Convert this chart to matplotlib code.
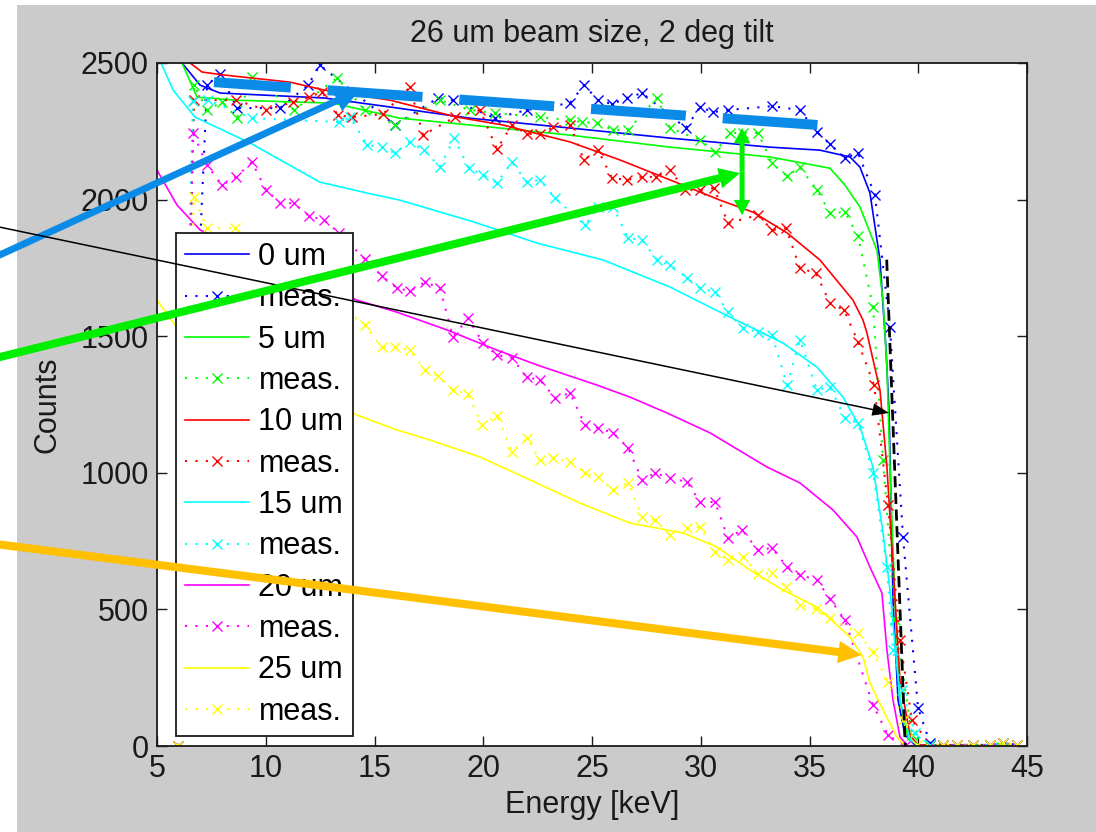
import numpy as np
import matplotlib.pyplot as plt
from matplotlib.patches import Rectangle

plt.rcParams['font.family'] = ['Liberation Sans', 'DejaVu Sans']

W, H = 1096, 832
FS = 22

# ---- simulated spectra (solid lines) ----
E_SIM_0 = [5.8, 6.15, 6.98, 7.9, 12.68, 15.71, 19.39, 23.99, 28.59, 33.18, 35.48, 36.86, 37.32,
           37.78, 38.24, 38.52, 38.66, 38.84, 39.07, 39.39, 39.85, 45.0]
C_SIM_0 = [2650, 2500, 2419, 2390, 2372, 2339, 2298, 2262, 2225, 2192, 2181, 2156, 2119,
           2024, 1779, 1449, 1219, 534, 168, 40, 4, 0]

E_SIM_5 = [5.8, 6.15, 6.84, 8.59, 13.09, 16.17, 19.39, 23.99, 28.59, 33.18, 35.94, 36.63, 37.32,
           38.1, 38.38, 38.56, 38.7, 38.93, 39.16, 39.53, 39.99, 45.0]
C_SIM_5 = [2650, 2500, 2375, 2364, 2353, 2298, 2273, 2236, 2192, 2156, 2115, 2053, 1973,
           1815, 1632, 1387, 1021, 534, 168, 29, 4, 0]

E_SIM_10 = [6.2, 6.52, 7.07, 8.08, 11.11, 12.68, 15.71, 18.79, 20.91, 23.99, 26.29, 28.59, 30.89,
            32.4, 33.97, 35.48, 37.0, 37.46, 37.64, 38.24, 38.56, 38.84, 39.16, 39.62, 39.99, 45.0]
C_SIM_10 = [2650, 2500, 2467, 2456, 2430, 2401, 2364, 2302, 2273, 2211, 2145, 2072, 1998,
            1954, 1878, 1779, 1632, 1559, 1512, 1303, 1021, 655, 242, 40, 4, 0]

E_SIM_15 = [5.0, 5.23, 5.74, 6.75, 9.28, 12.49, 14.66, 16.17, 19.57, 22.47, 25.51, 28.59, 31.34,
            33.78, 35.34, 36.54, 37.32, 37.92, 38.38, 38.7, 39.16, 39.62, 40.08, 45.0]
C_SIM_15 = [2560, 2492, 2401, 2302, 2207, 2064, 2024, 1998, 1918, 1841, 1779, 1680, 1570,
            1475, 1387, 1277, 1168, 1021, 780, 571, 168, 22, 0, 0]

E_SIM_20 = [5.0, 5.92, 6.98, 14.2, 16.03, 18.33, 20.63, 22.61, 25.23, 26.75, 28.45, 30.43, 33.05,
            34.56, 36.08, 37.18, 37.78, 38.33, 38.56, 38.84, 39.16, 39.53, 45.0]
C_SIM_20 = [2108, 1980, 1889, 1632, 1588, 1523, 1449, 1391, 1321, 1277, 1219, 1146, 1021,
            963, 864, 765, 655, 560, 351, 168, 33, 0, 0]

E_SIM_25 = [5.0, 5.83, 14.2, 16.03, 17.55, 19.85, 22.15, 24.45, 26.75, 29.18, 30.75, 32.26, 33.78,
            35.34, 36.86, 37.46, 37.78, 38.38, 39.02, 39.39, 45.0]
C_SIM_25 = [1632, 1541, 1211, 1157, 1120, 1058, 974, 889, 816, 780, 728, 644, 571,
            509, 399, 326, 231, 132, 33, 0, 0]

# ---- measured spectra (dotted + x) ----
E_TAIL = [41.14, 41.78, 42.52, 43.3, 43.9, 44.54]
C_TAIL = [4, 4, 4, 4, 11, 4]

E_MEAS_0 = [5.97, 7.3, 7.9, 8.68, 10.66, 11.94, 12.49, 15.94, 17.92, 18.61, 20.54, 22.01, 23.99,
            24.63, 25.28, 25.92, 26.61, 27.3, 29.32, 29.97, 30.56, 31.25, 33.28, 34.56, 35.34,
            35.94, 36.63, 37.23, 38.01, 38.7, 39.3, 39.99, 40.54]
C_MEAS_0 = [0, 2419, 2460, 2335, 2335, 2419, 2492, 2273, 2372, 2364, 2298, 2328, 2353,
            2419, 2364, 2350, 2372, 2390, 2262, 2339, 2320, 2328, 2342, 2328, 2247,
            2203, 2152, 2170, 2017, 1534, 765, 139, 11]

E_MEAS_5 = [5.97, 6.7, 7.3, 7.99, 8.68, 9.37, 11.3, 13.28, 14.56, 15.94, 18.01, 19.39, 20.54,
            22.61, 23.99, 24.54, 25.23, 25.97, 26.66, 27.99, 28.59, 29.97, 30.66, 31.34, 31.94,
            32.63, 33.28, 33.97, 34.56, 35.34, 35.94, 36.63, 37.23, 37.92, 38.38, 38.93, 39.71,
            40.54]
C_MEAS_5 = [0, 2419, 2328, 2357, 2298, 2449, 2328, 2445, 2328, 2273, 2364, 2328, 2317,
            2302, 2291, 2284, 2280, 2255, 2255, 2372, 2262, 2218, 2174, 2244, 2244,
            2244, 2134, 2086, 2119, 2035, 1951, 1954, 1867, 1607, 1047, 461, 40,
            4]

E_MEAS_10 = [5.97, 6.7, 8.63, 10.01, 11.25, 11.99, 12.59, 13.32, 13.97, 15.39, 16.63, 17.23, 18.7,
             19.85, 20.63, 21.32, 22.01, 22.61, 23.21, 23.99, 24.63, 25.28, 25.92, 26.61, 27.3,
             27.94, 28.59, 29.28, 29.97, 30.61, 31.25, 32.63, 33.28, 33.92, 34.56, 35.3, 35.94,
             36.59, 37.23, 37.97, 38.61, 39.16, 39.71, 40.54]
C_MEAS_10 = [0, 2364, 2364, 2328, 2357, 2375, 2394, 2309, 2302, 2313, 2412, 2236, 2302,
             2328, 2185, 2273, 2240, 2240, 2266, 2273, 2145, 2181, 2079, 2072, 2083,
             2083, 2108, 2035, 2035, 2042, 1914, 1943, 1889, 1896, 1749, 1731, 1621,
             1596, 1479, 1321, 882, 388, 95, 4]

E_MEAS_15 = [5.97, 6.65, 7.34, 9.37, 13.37, 13.87, 14.66, 15.34, 15.94, 16.63, 17.28, 18.01,
             18.66, 19.34, 19.99, 20.63, 21.32, 22.01, 22.61, 23.3, 24.68, 25.28, 25.97, 26.66,
             27.3, 27.99, 28.59, 29.37, 29.97, 30.66, 31.25, 31.94, 32.63, 33.28, 33.97, 34.56,
             35.34, 35.94, 36.63, 37.23, 37.92, 38.56, 38.84, 39.25, 39.85, 40.54]
C_MEAS_15 = [0, 2360, 2364, 2298, 2284, 2302, 2200, 2192, 2170, 2211, 2181, 2119,
             2225, 2115, 2090, 2061, 2137, 2064, 2072, 2006, 1907, 1973, 1973, 1859,
             1852, 1779, 1760, 1713, 1676, 1662, 1588, 1530, 1515, 1504, 1321, 1486,
             1303, 1314, 1200, 1182, 999, 655, 351, 205, 48, 4]

E_MEAS_20 = [5.97, 6.66, 7.3, 7.99, 8.63, 9.37, 10.01, 10.66, 11.3, 11.99, 12.68, 13.37, 14.56,
             15.34, 16.03, 16.63, 17.32, 18.01, 18.61, 19.3, 19.99, 20.63, 21.32, 22.01, 22.61,
             23.3, 23.99, 24.68, 25.28, 25.97, 26.66, 27.3, 27.9, 28.59, 29.37, 29.97, 30.66,
             31.25, 31.9, 32.63, 33.28, 33.97, 34.56, 35.34, 35.94, 36.63, 37.92, 38.61, 39.39]
C_MEAS_20 = [0, 2244, 2126, 2053, 2083, 2137, 2035, 1987, 1987, 1940, 1925, 1878, 1782,
             1720, 1676, 1665, 1698, 1676, 1497, 1566, 1475, 1431, 1420, 1350, 1340,
             1274, 1292, 1175, 1164, 1146, 1091, 974, 999, 981, 966, 893, 893,
             761, 791, 717, 725, 655, 626, 608, 538, 461, 150, 40, 0]

E_MEAS_25 = [5.97, 6.7, 7.3, 8.59, 14.56, 15.34, 15.94, 16.63, 17.32, 17.92, 18.61, 19.3, 19.94,
             20.63, 21.32, 22.01, 22.61, 23.21, 23.99, 24.68, 25.28, 25.97, 26.66, 27.3, 27.9,
             28.59, 29.37, 29.97, 30.66, 31.25, 31.94, 32.63, 33.28, 33.92, 34.56, 35.3, 35.94,
             37.23, 37.92, 38.61, 39.3, 39.94]
C_MEAS_25 = [0, 2009, 1896, 1896, 1541, 1460, 1460, 1449, 1376, 1354, 1303, 1288, 1175,
             1208, 1076, 1127, 1047, 1054, 1039, 999, 985, 937, 963, 838, 827,
             772, 798, 802, 710, 681, 692, 630, 633, 582, 516, 501, 468,
             414, 344, 234, 95, 4]

# ideal edge
E_EDGE = [38.55, 39.4]
C_EDGE = [1780, 0]

LABELS = ["0 um", "5 um", "10 um", "15 um", "20 um", "25 um"]
COLORS = ["#0000FF", "#00FF00", "#FF0000", "#00FFFF", "#FF00FF", "#FFFF00"]

ARROW_BLUE = "#0B8BE8"
ARROW_GREEN = "#00EE00"
ARROW_ORANGE = "#FFC000"
INK = "#1A1A1A"


def fig_frac(px, py):
    return px / W, 1 - py / H


fig = plt.figure(figsize=(W / 100, H / 100), dpi=100, facecolor="white")
fig.patches.append(Rectangle((17 / W, 0), 1 - 17 / W, 1 - 5 / H, transform=fig.transFigure,
                             facecolor="#CBCBCB", edgecolor="none", zorder=-5))

x0, y0 = fig_frac(157, 746)
x1, y1 = fig_frac(1027, 63)
ax = fig.add_axes([x0, y0, x1 - x0, y1 - y0])
ax.set_facecolor("white")

sims = [(E_SIM_0, C_SIM_0), (E_SIM_5, C_SIM_5), (E_SIM_10, C_SIM_10),
        (E_SIM_15, C_SIM_15), (E_SIM_20, C_SIM_20), (E_SIM_25, C_SIM_25)]
meas = [(E_MEAS_0, C_MEAS_0), (E_MEAS_5, C_MEAS_5), (E_MEAS_10, C_MEAS_10),
        (E_MEAS_15, C_MEAS_15), (E_MEAS_20, C_MEAS_20), (E_MEAS_25, C_MEAS_25)]

for lab, col, (es, cs), (em, cm) in zip(LABELS, COLORS, sims, meas):
    ax.plot(es, cs, color=col, lw=1.2, label=lab)
    em = np.concatenate([em, E_TAIL])
    cm = np.concatenate([cm, C_TAIL])
    ax.plot(em, cm, color=col, lw=1.5, ls=(0, (1, 4)), marker="x", ms=7, mew=1.0,
            label="meas.")

ax.plot(E_EDGE, C_EDGE, color="black", lw=2.0, ls=(0, (4, 2)), zorder=3)

ax.set_xlim(5, 45)
ax.set_ylim(0, 2500)
ax.set_xticks(np.arange(5, 46, 5))
ax.set_yticks(np.arange(0, 2501, 500))
ax.tick_params(direction="in", length=7, width=1, top=True, right=True,
               labelsize=FS, pad=6, colors=INK)
for s in ax.spines.values():
    s.set_linewidth(1.3)
    s.set_color(INK)

ax.set_xlabel("Energy [keV]", fontsize=FS, labelpad=4, color=INK)
ax.set_ylabel("Counts", fontsize=FS, labelpad=13, color=INK)
ax.set_title("26 um beam size, 2 deg tilt", fontsize=FS, pad=15, color=INK)

bx, by = (176 - 157) / 870, (746 - 233) / 683
leg = ax.legend(loc="upper left", bbox_to_anchor=(bx, by), borderaxespad=0, fontsize=FS,
                numpoints=1, handlelength=2.1, handletextpad=0.3, labelspacing=0.37,
                borderpad=0.3, fancybox=False, framealpha=1, edgecolor=INK)
leg.get_frame().set_linewidth(1.3)
leg.set_zorder(5)

# highlighted reference level
ax.plot([7.62, 35.39], [2430, 2273], color=ARROW_BLUE, lw=7.2, ls=(1.8, (9.5, 3.7)),
        dash_capstyle="butt", zorder=9)


def arrow(tip, tail_px, color, tail_w, head_w, head_l):
    ax.annotate("", xy=tip, xycoords="data", xytext=fig_frac(*tail_px),
                textcoords="figure fraction", annotation_clip=False, zorder=10,
                arrowprops=dict(arrowstyle=f"simple,head_length={head_l},head_width={head_w},"
                                           f"tail_width={tail_w}",
                                color=color, lw=0, shrinkA=0, shrinkB=0, mutation_scale=1))


arrow((14.33, 2401), (-20, 264), ARROW_BLUE, 5.0, 17, 18)
arrow((38.66, 1219), (-20, 223), "black", 1.1, 9, 12)
arrow((31.8, 2097), (-20, 362), ARROW_GREEN, 5.8, 15, 15)
arrow((37.41, 333), (-20, 542), ARROW_ORANGE, 5.8, 16, 17)

# double-headed arrow marking the gap
for end in (2262, 1943):
    ax.annotate("", xy=(31.9, end), xytext=(31.9, 2102), zorder=10,
                arrowprops=dict(arrowstyle="simple,head_length=11,head_width=12,tail_width=3.6",
                                color=ARROW_GREEN, lw=0, shrinkA=0, shrinkB=0, mutation_scale=1))

fig.savefig("out.png", dpi=100, facecolor="white")
